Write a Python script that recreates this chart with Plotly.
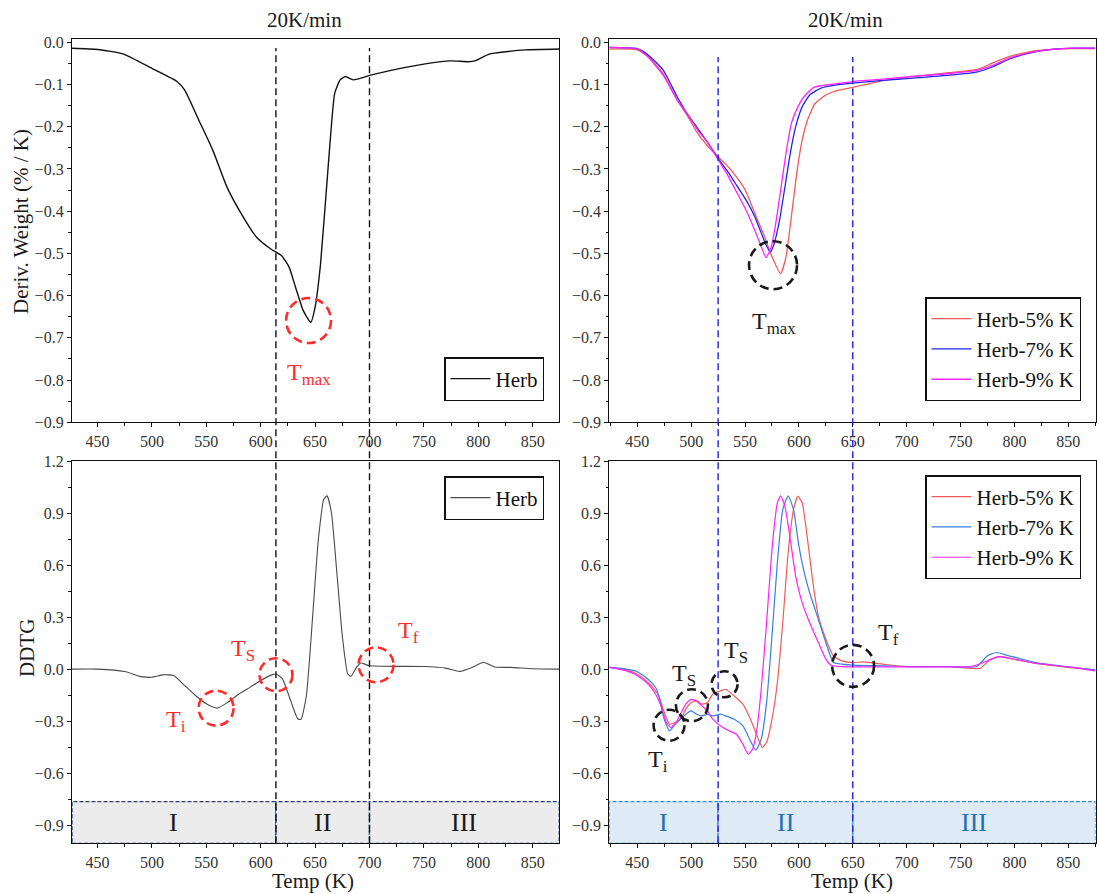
import plotly.graph_objects as go

# ---------------- data ----------------
# DTG of raw herb, 20 K/min
herb_dtg_T = [426, 450, 474, 500, 523, 530, 543, 556, 569, 583, 596, 609, 619, 626, 632,
              639, 646, 650, 655, 662, 668, 673, 678, 685, 701, 721, 754, 774, 791, 797,
              810, 827, 843, 875]
herb_dtg_v = [-0.014, -0.017, -0.028, -0.062, -0.093, -0.113, -0.184, -0.256, -0.343, -0.41,
              -0.461, -0.489, -0.505, -0.532, -0.58, -0.635, -0.663, -0.627, -0.525, -0.295,
              -0.121, -0.089, -0.081, -0.089, -0.078, -0.066, -0.05, -0.044, -0.046, -0.044,
              -0.028, -0.022, -0.018, -0.016]

# DTG of K-loaded herb samples
k5_dtg_T = [424, 450, 460, 474, 487, 497, 506, 516, 525, 533, 542, 551, 559, 567, 575, 583,
            588, 593, 598, 603, 608, 615, 625, 638, 650, 674, 707, 739, 766, 779, 795, 815,
            835, 854, 875]
k5_dtg_v = [-0.016, -0.018, -0.034, -0.074, -0.137, -0.176, -0.216, -0.248, -0.271, -0.291,
            -0.319, -0.354, -0.405, -0.453, -0.508, -0.548, -0.508, -0.413, -0.31, -0.232,
            -0.184, -0.145, -0.125, -0.113, -0.107, -0.093, -0.081, -0.072, -0.064, -0.05,
            -0.034, -0.022, -0.017, -0.015, -0.015]

k7_dtg_T = [424, 450, 460, 474, 487, 497, 506, 516, 525, 533, 542, 551, 559, 564, 569, 573.5,
            577, 582, 587, 592, 597, 603, 610, 620, 635, 650, 675, 700, 740, 766, 780, 795,
            815, 835, 855, 875]
k7_dtg_v = [-0.012, -0.015, -0.03, -0.066, -0.129, -0.172, -0.204, -0.24, -0.275, -0.303,
            -0.338, -0.374, -0.413, -0.445, -0.477, -0.497, -0.477, -0.422, -0.343, -0.263,
            -0.2, -0.153, -0.125, -0.109, -0.101, -0.097, -0.091, -0.086, -0.078, -0.07,
            -0.058, -0.04, -0.025, -0.017, -0.014, -0.014]

k9_dtg_T = [424, 450, 460, 474, 487, 497, 506, 516, 525, 533, 542, 551, 559, 564, 569.5, 574,
            578, 583, 588, 593, 599, 606, 614, 620, 635, 650, 675, 700, 740, 766, 780, 795,
            815, 835, 855, 875]
k9_dtg_v = [-0.012, -0.016, -0.035, -0.078, -0.137, -0.172, -0.208, -0.24, -0.278, -0.311,
            -0.354, -0.398, -0.445, -0.477, -0.51, -0.487, -0.437, -0.351, -0.263, -0.192,
            -0.153, -0.125, -0.107, -0.103, -0.098, -0.093, -0.088, -0.082, -0.074, -0.066,
            -0.055, -0.038, -0.024, -0.017, -0.014, -0.014]

# DDTG of raw herb
herb_ddtg_T = [426, 450, 475, 490, 500, 510, 520, 530, 540, 550, 560, 570, 580, 590, 600,
               610, 614, 620, 628, 634, 637, 642, 648, 653, 658, 661, 665, 670, 675, 680,
               683, 688, 692, 700, 750, 770, 783, 795, 805, 815, 830, 850, 875]
herb_ddtg_v = [0.0, 0.0, -0.014, -0.043, -0.047, -0.033, -0.037, -0.094, -0.152, -0.2,
               -0.225, -0.19, -0.143, -0.105, -0.066, -0.033, -0.028, -0.056, -0.19, -0.286,
               -0.29, -0.152, 0.327, 0.749, 0.98, 1.0, 0.903, 0.557, 0.193, -0.028,
               -0.041, 0.01, 0.035, 0.02, 0.015, 0.006, -0.013, 0.012, 0.04, 0.012,
               0.01, 0.002, 0.0]

# DDTG of K-loaded herb samples
k5_ddtg_T = [424, 440, 450, 460, 467, 470, 475, 480, 485, 490, 495, 500, 505, 510, 515, 520,
             527, 532, 540, 548, 555, 560, 563, 566, 570, 575, 580, 585, 590, 595, 599, 603,
             608, 613, 618, 625, 632, 640, 650, 660, 680, 700, 740, 760, 768, 778, 788, 800,
             820, 850, 875]
k5_ddtg_v = [0.01, -0.004, -0.029, -0.077, -0.126, -0.155, -0.25, -0.318, -0.308, -0.289,
             -0.231, -0.193, -0.183, -0.202, -0.193, -0.145, -0.126, -0.116, -0.155, -0.202,
             -0.289, -0.366, -0.414, -0.452, -0.423, -0.289, -0.077, 0.268, 0.672, 0.921,
             0.998, 0.96, 0.749, 0.499, 0.307, 0.173, 0.077, 0.048, 0.038, 0.042, 0.027,
             0.015, 0.015, 0.004, 0.004, 0.057, 0.072, 0.057, 0.033, 0.01, -0.004]

k7_ddtg_T = [424, 440, 450, 460, 467, 470, 475, 480, 485, 490, 495, 500, 505, 510, 515, 520,
             527, 532, 540, 548, 555, 560, 565, 570, 575, 580, 585, 590, 595, 600, 605, 610,
             618, 625, 632, 640, 650, 680, 700, 740, 765, 775, 783, 795, 820, 850, 875]
k7_ddtg_v = [0.01, 0.0, -0.015, -0.058, -0.106, -0.155, -0.289, -0.356, -0.318, -0.289,
             -0.26, -0.241, -0.26, -0.27, -0.26, -0.27, -0.26, -0.27, -0.289, -0.327,
             -0.414, -0.468, -0.404, -0.193, 0.191, 0.614, 0.921, 1.0, 0.921, 0.71, 0.556,
             0.441, 0.288, 0.154, 0.038, 0.029, 0.023, 0.019, 0.015, 0.015, 0.015, 0.077,
             0.096, 0.077, 0.038, 0.013, -0.004]

k9_ddtg_T = [424, 440, 450, 460, 467, 472, 477, 481, 486, 490, 495, 500, 505, 510, 515, 520,
             527, 535, 542, 548, 553, 557, 561, 565, 570, 575, 580, 583, 587, 592, 597, 603,
             610, 618, 625, 630, 640, 680, 700, 740, 760, 775, 785, 800, 820, 850, 875]
k9_ddtg_v = [0.01, -0.01, -0.038, -0.086, -0.145, -0.212, -0.308, -0.337, -0.308, -0.26,
             -0.202, -0.174, -0.183, -0.212, -0.241, -0.289, -0.327, -0.356, -0.376, -0.433,
             -0.491, -0.462, -0.347, -0.116, 0.268, 0.691, 0.96, 1.0, 0.94, 0.749, 0.537,
             0.384, 0.268, 0.154, 0.058, 0.023, 0.015, 0.013, 0.013, 0.013, 0.015, 0.048,
             0.072, 0.057, 0.033, 0.013, -0.01]

# stage boundaries (K)
herb_bounds = [614, 700]
k_bounds = [525, 650]
stage_names = ["I", "II", "III"]

# ---------------- styling ----------------
W, H = 1097, 894
SERIF = "Liberation Serif, Times New Roman, serif"
RED_MARK = "#ff2a2a"
C5 = "#f05a5a"
C7_TOP = "#2222ee"
C7_BOT = "#3a7ee0"
C9 = "#ff22ff"


def px(x):
    return x / W


def py(y):
    return 1 - y / H


XL = [px(72), px(559.3)]
XR = [px(609.3), px(1095.5)]
YT = [py(422.3), py(39.3)]
YB = [py(843.3), py(460.7)]
XRANGE_L = [426.5, 874.5]
XRANGE_R = [424, 875.3]

fig = go.Figure()


def add_line(x, y, name, xa, ya, color, width, legend):
    fig.add_trace(go.Scatter(
        x=x, y=y, name=name, mode="lines", xaxis=xa, yaxis=ya,
        line=dict(color=color, width=width, shape="spline", smoothing=0.5),
        legend=legend, showlegend=True))


add_line(herb_dtg_T, herb_dtg_v, "Herb", "x", "y", "#111111", 1.4, "legend")
add_line(k5_dtg_T, k5_dtg_v, "Herb-5% K", "x2", "y2", C5, 1.3, "legend2")
add_line(k7_dtg_T, k7_dtg_v, "Herb-7% K", "x2", "y2", C7_TOP, 1.3, "legend2")
add_line(k9_dtg_T, k9_dtg_v, "Herb-9% K", "x2", "y2", C9, 1.3, "legend2")
add_line(herb_ddtg_T, herb_ddtg_v, "Herb", "x3", "y3", "#4a4a4a", 1.1, "legend3")
add_line(k5_ddtg_T, k5_ddtg_v, "Herb-5% K", "x4", "y4", C5, 1.2, "legend4")
add_line(k7_ddtg_T, k7_ddtg_v, "Herb-7% K", "x4", "y4", C7_BOT, 1.2, "legend4")
add_line(k9_ddtg_T, k9_ddtg_v, "Herb-9% K", "x4", "y4", C9, 1.2, "legend4")

tickfont = dict(family=SERIF, size=16, color="#333333")


def xaxis(domain, rng, anchor):
    return dict(domain=domain, range=rng, anchor=anchor, showline=True, mirror=True,
                linecolor="#111111", linewidth=1.3, ticks="outside", ticklen=4,
                tickwidth=1, tickcolor="#111111", tick0=450, dtick=50,
                minor=dict(ticks="outside", ticklen=2.5, dtick=25, tick0=425,
                           tickcolor="#111111"),
                showgrid=False, zeroline=False, tickfont=tickfont, automargin=False)


def yaxis(domain, rng, anchor, dtick, minor, fmt):
    return dict(domain=domain, range=rng, anchor=anchor, showline=True, mirror=True,
                linecolor="#111111", linewidth=1.3, ticks="outside", ticklen=4,
                tickwidth=1, tickcolor="#111111", tick0=0, dtick=dtick,
                minor=dict(ticks="outside", ticklen=2.5, dtick=minor, tick0=0,
                           tickcolor="#111111"),
                showgrid=False, zeroline=False, tickfont=tickfont, tickformat=fmt,
                automargin=False)


legend_common = dict(bordercolor="#111111", borderwidth=1.5, bgcolor="white",
                     font=dict(family=SERIF, size=21, color="#111111"),
                     itemwidth=40, tracegroupgap=0)

fig.update_layout(
    width=W, height=H, margin=dict(l=0, r=0, t=0, b=0, pad=0, autoexpand=False),
    paper_bgcolor="white", plot_bgcolor="white",
    xaxis=xaxis(XL, XRANGE_L, "y"),
    yaxis=yaxis(YT, [-0.9, 0.007], "x", 0.1, 0.05, ".1f"),
    xaxis2=xaxis(XR, XRANGE_R, "y2"),
    yaxis2=yaxis(YT, [-0.9, 0.007], "x2", 0.1, 0.05, ".1f"),
    xaxis3=xaxis(XL, XRANGE_L, "y3"),
    yaxis3=yaxis(YB, [-1.005, 1.203], "x3", 0.3, 0.15, ".1f"),
    xaxis4=xaxis(XR, XRANGE_R, "y4"),
    yaxis4=yaxis(YB, [-1.005, 1.203], "x4", 0.3, 0.15, ".1f"),
    legend=dict(x=px(544), xanchor="right", y=py(401), yanchor="bottom", **legend_common),
    legend2=dict(x=px(1081), xanchor="right", y=py(401), yanchor="bottom", **legend_common),
    legend3=dict(x=px(544), xanchor="right", y=py(476), yanchor="top", **legend_common),
    legend4=dict(x=px(1081), xanchor="right", y=py(475), yanchor="top", **legend_common),
)

shapes = []
annotations = []

# stage bands under the DDTG curves
BAND_LO, BAND_HI = -1.005, -0.765


def add_bands(xa, ya, rng, bounds, fill, edge, label_color):
    edges = [rng[0]] + bounds + [rng[1]]
    for i in range(3):
        shapes.append(dict(type="rect", xref=xa, yref=ya, x0=edges[i], x1=edges[i + 1],
                           y0=BAND_LO, y1=BAND_HI, fillcolor=fill, layer="below",
                           line=dict(color=edge, width=1.3, dash="4px,2px")))
        annotations.append(dict(xref=xa, yref=ya, x=(edges[i] + edges[i + 1]) / 2,
                                y=(BAND_LO + BAND_HI) / 2, text=stage_names[i],
                                showarrow=False, xanchor="center", yanchor="middle",
                                font=dict(family=SERIF, size=26, color=label_color)))


add_bands("x3", "y3", XRANGE_L, herb_bounds, "#ececec", "#23407a", "#1a1a1a")
add_bands("x4", "y4", XRANGE_R, k_bounds, "#deeaf6", "#3b8ad0", "#1f6fb8")

# stage boundary lines spanning both rows
for b in herb_bounds:
    shapes.append(dict(type="line", xref="x3", yref="paper", x0=b, x1=b,
                       y0=py(843.3), y1=py(48),
                       line=dict(color="#111111", width=1.4, dash="7px,4px")))
for b in k_bounds:
    shapes.append(dict(type="line", xref="x4", yref="paper", x0=b, x1=b,
                       y0=py(843.3), y1=py(57),
                       line=dict(color="#2020e0", width=1.4, dash="7px,4px")))


def circle(xa, ya, x, y, d, color):
    r = d / 2
    shapes.append(dict(type="circle", xref=xa, yref=ya, xsizemode="pixel",
                       ysizemode="pixel", xanchor=x, yanchor=y, x0=-r, x1=r, y0=-r, y1=r,
                       line=dict(color=color, width=2.6, dash="9px,5px")))


def label(xa, ya, x, y, text, color):
    annotations.append(dict(xref=xa, yref=ya, x=x, y=y, text=text, showarrow=False,
                            xanchor="center", yanchor="middle",
                            font=dict(family=SERIF, size=24, color=color)))


# characteristic temperatures on the raw herb curves
circle("x", "y", 644, -0.659, 45, RED_MARK)
label("x", "y", 644, -0.785, "T<sub>max</sub>", RED_MARK)
circle("x3", "y3", 559, -0.225, 35, RED_MARK)
circle("x3", "y3", 614, -0.032, 33, RED_MARK)
circle("x3", "y3", 706, 0.025, 35, RED_MARK)
label("x3", "y3", 522, -0.30, "T<sub>i</sub>", RED_MARK)
label("x3", "y3", 584, 0.11, "T<sub>S</sub>", RED_MARK)
label("x3", "y3", 736, 0.215, "T<sub>f</sub>", RED_MARK)

# characteristic temperatures on the K-loaded curves
circle("x2", "y2", 576, -0.528, 48, "#1a1a1a")
label("x2", "y2", 577, -0.665, "T<sub>max</sub>", "#1a1a1a")
circle("x4", "y4", 479.5, -0.324, 31, "#1a1a1a")
circle("x4", "y4", 500.7, -0.208, 32, "#1a1a1a")
circle("x4", "y4", 531, -0.087, 26, "#1a1a1a")
circle("x4", "y4", 650.3, 0.019, 42, "#1a1a1a")
label("x4", "y4", 469.6, -0.53, "T<sub>i</sub>", "#1a1a1a")
label("x4", "y4", 493.5, -0.035, "T<sub>S</sub>", "#1a1a1a")
label("x4", "y4", 541.7, 0.10, "T<sub>S</sub>", "#1a1a1a")
label("x4", "y4", 683.4, 0.205, "T<sub>f</sub>", "#1a1a1a")

# titles and axis labels
title_font = dict(family=SERIF, size=21, color="#1a1a1a")


def paper_text(x, y, text, angle=0):
    annotations.append(dict(xref="paper", yref="paper", x=px(x), y=py(y), text=text,
                            showarrow=False, xanchor="center", yanchor="middle",
                            textangle=angle, font=title_font))


for xc in (304, 845):
    paper_text(xc, 20, "20K/min")
for xc in (313, 852):
    paper_text(xc, 881, "Temp (K)")
paper_text(21, 222, "Deriv. Weight (% / K)", -90)
paper_text(27, 648, "DDTG", -90)

fig.update_layout(shapes=shapes, annotations=annotations)

fig.write_html("out.html")
